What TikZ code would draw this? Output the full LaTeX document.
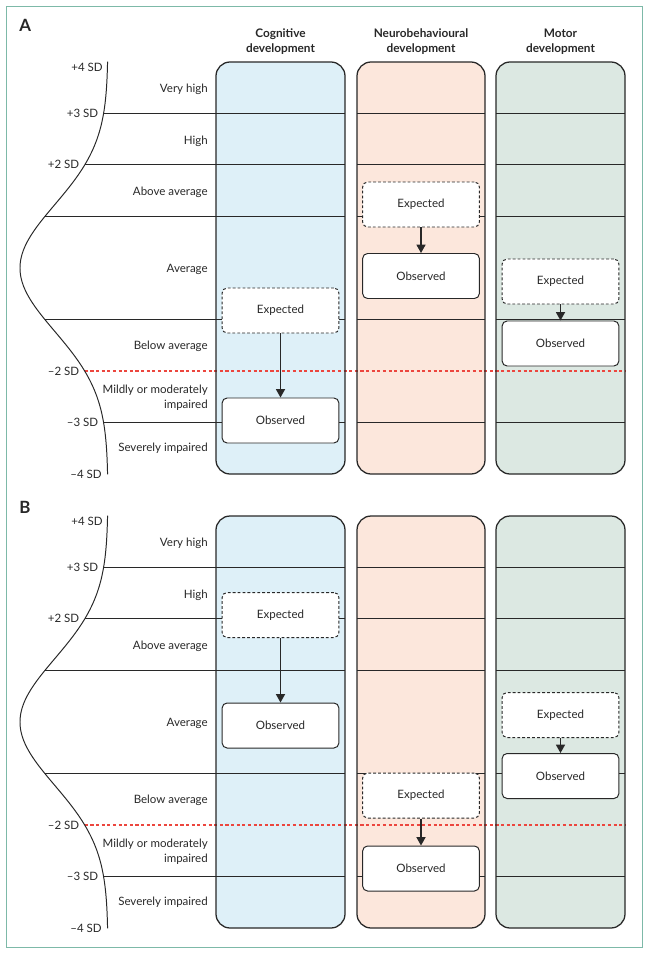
\documentclass[tikz,border=0pt]{standalone}
\usepackage{fontspec}
\setmainfont{Lato}
\usetikzlibrary{arrows.meta}

\definecolor{cogblue}{RGB}{222,240,248}
\definecolor{neuropeach}{RGB}{252,231,220}
\definecolor{motorgreen}{RGB}{220,232,226}
\definecolor{framegreen}{RGB}{125,185,168}
\definecolor{cutred}{RGB}{236,70,62}
\definecolor{inkgray}{RGB}{40,40,40}

\tikzset{column/.style={draw=inkgray,line width=0.9pt,rounded corners=10pt}}
\tikzset{level/.style={draw=inkgray,line width=0.7pt}}
\tikzset{cutoff/.style={color=cutred,line width=0.75pt,dash pattern=on 2.2pt off 1.8pt}}
\tikzset{bandlab/.style={anchor=east,align=right,text=inkgray,inner sep=0pt,
  font=\fontsize{8.2}{10.7}\selectfont}}
\tikzset{sdlab/.style={anchor=east,text=inkgray,inner sep=0pt,
  font=\fontsize{8.2}{10.7}\selectfont}}
\tikzset{header/.style={align=center,text=inkgray,inner sep=0pt,
  font=\fontsize{8.4}{10.7}\selectfont\bfseries}}
\tikzset{outcome/.style={draw=inkgray,fill=white,line width=0.7pt,rounded corners=3.5pt,
  minimum width=83pt,minimum height=32pt,inner sep=0pt,text=inkgray,
  font=\fontsize{8.2}{10.7}\selectfont}}
\tikzset{expected/.style={outcome,dash pattern=on 2pt off 1.5pt}}
\tikzset{shift arrow/.style={draw=inkgray,line width=0.9pt,-{Triangle[length=6pt,width=6.5pt]}}}
\tikzset{panellab/.style={anchor=west,inner sep=0pt,text=inkgray,
  font=\fontsize{12}{14}\selectfont\bfseries}}

\begin{document}
\begin{tikzpicture}[x=0.025cm,y=-0.025cm]
\useasboundingbox (0,0) rectangle (648,954);
\draw[framegreen,line width=0.7pt] (6,6) rectangle (642,947);

\node[header] (hcog) at (280.5,42) {Cognitive\\development};
\node[header] (hneuro) at (421,42) {Neurobehavioural\\development};
\node[header] (hmotor) at (560.5,42) {Motor\\development};

\node[panellab] (pa) at (19,25) {A};
\node[panellab] (pb) at (19,507) {B};

\foreach \sh in {0,454}{
  \begin{scope}[shift={(0,\sh)}]
  \fill[cogblue,rounded corners=10pt] (216,62) rectangle (345,474);
  \fill[neuropeach,rounded corners=10pt] (357,62) rectangle (485,474);
  \fill[motorgreen,rounded corners=10pt] (496,62) rectangle (625,474);

  \foreach \k in {3,2,1,-1,-3}{
    \path ({108-88*exp(-(\k)*(\k)/3)},{268-51.6*(\k)}) coordinate (L);
    \draw[level] (L) -- (345,{268-51.6*(\k)});
    \draw[level] (357,{268-51.6*(\k)}) -- (485,{268-51.6*(\k)});
    \draw[level] (496,{268-51.6*(\k)}) -- (625,{268-51.6*(\k)});
  }
  \path ({108-88*exp(-4/3)},371) coordinate (R);
  \draw[cutoff] (R) -- (625,371);

  \draw[column] (216,62) rectangle (345,474);
  \draw[column] (357,62) rectangle (485,474);
  \draw[column] (496,62) rectangle (625,474);

  % sideways bell curve
  \draw[inkgray,line width=0.7pt] plot[domain=-4:4,samples=80,smooth]
    ({108-88*exp(-(\x)*(\x)/3)},{268-51.6*\x});

  \node[sdlab] (p4\sh) at (103,67) {+4 SD};
  \node[sdlab] (p3\sh) at (98.5,113.2) {+3 SD};
  \node[sdlab] (p2\sh) at (79.5,164.8) {+2 SD};
  \node[sdlab] (m2\sh) at (79.5,371.2) {–2 SD};
  \node[sdlab] (m3\sh) at (98.5,422.8) {–3 SD};
  \node[sdlab] (m4\sh) at (102,474) {–4 SD};

  \node[bandlab] (vh\sh) at (208,89.4) {Very high};
  \node[bandlab] (hi\sh) at (208,141) {High};
  \node[bandlab] (aa\sh) at (208,192.6) {Above average};
  \node[bandlab] (av\sh) at (208,269) {Average};
  \node[bandlab] (ba\sh) at (208,346) {Below average};
  \node[bandlab] (mm\sh) at (208,397.5) {Mildly or moderately\\impaired};
  \node[bandlab] (si\sh) at (208,448.6) {Severely impaired};
  \end{scope}
}

% panel A
\node[expected] (cexpA) at (280.5,310.5) {Expected};
\node[outcome] (cobsA) at (280.5,420.5) {Observed};
\node[expected] (nexpA) at (421,204.5) {Expected};
\node[outcome] (nobsA) at (421,276) {Observed};
\node[expected] (mexpA) at (560.5,281.5) {Expected};
\node[outcome] (mobsA) at (560.5,343.5) {Observed};
\draw[shift arrow] (cexpA) -- (cobsA);
\draw[shift arrow] (nexpA) -- (nobsA);
\draw[shift arrow] (mexpA) -- (mobsA);

% panel B
\node[expected] (cexpB) at (280.5,615) {Expected};
\node[outcome] (cobsB) at (280.5,725.5) {Observed};
\node[expected] (nexpB) at (421,795.5) {Expected};
\node[outcome] (nobsB) at (421,868.5) {Observed};
\node[expected] (mexpB) at (560.5,715) {Expected};
\node[outcome] (mobsB) at (560.5,776) {Observed};
\draw[shift arrow] (cexpB) -- (cobsB);
\draw[shift arrow] (nexpB) -- (nobsB);
\draw[shift arrow] (mexpB) -- (mobsB);

\end{tikzpicture}
\end{document}
